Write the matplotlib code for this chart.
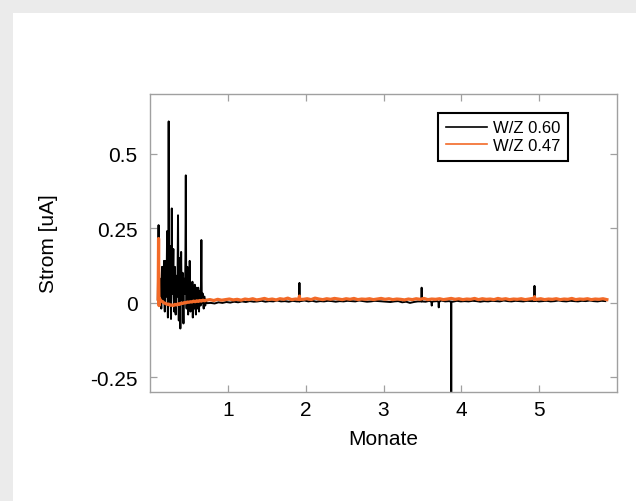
import numpy as np
import matplotlib
matplotlib.use("Agg")
import matplotlib.pyplot as plt
from matplotlib.patches import Rectangle

# ---------------- data ----------------
series_labels = ["W/Z 0.60", "W/Z 0.47"]
x_ticks = [1, 2, 3, 4, 5]
y_ticks = [-0.25, 0, 0.25, 0.5]
y_ticklabels = ["-0.25", "0", "0.25", "0.5"]

# W/Z 0.60 (black) – noisy start-up phase, months 0.10 .. 0.72 (step 0.005)
black_early_v = [0.010, 0.150, 0.260, 0.060, 0.020, 0.050, 0.000, 0.080, 0.030, -0.020,
                 0.090, 0.120, 0.040, 0.010, 0.100, 0.060, 0.140, 0.020, -0.030, 0.080,
                 0.140, 0.050, 0.020, 0.110, 0.240, 0.030, -0.050, 0.120, 0.608, 0.100,
                 0.000, 0.070, 0.190, 0.040, -0.055, 0.090, 0.316, 0.060, 0.030, 0.110,
                 0.180, 0.020, -0.030, 0.090, 0.120, 0.040, -0.040, 0.080, 0.090, 0.030,
                 0.020, 0.120, 0.293, 0.050, -0.060, 0.070, 0.150, 0.030, -0.087, 0.060,
                 0.170, 0.050, 0.010, 0.090, 0.100, 0.020, -0.070, 0.060, 0.080, 0.040,
                 0.030, 0.150, 0.427, 0.060, -0.020, 0.070, 0.120, 0.020, -0.040, 0.050,
                 0.080, 0.030, 0.140, 0.040, -0.030, 0.050, 0.060, 0.020, 0.010, 0.070,
                 -0.050, 0.030, 0.050, 0.010, -0.020, 0.060, 0.040, 0.000, -0.040, 0.050,
                 0.030, 0.010, -0.020, 0.040, 0.050, 0.000, -0.030, 0.030, 0.040, 0.010,
                 -0.010, 0.060, 0.210, 0.020, 0.000, 0.030, 0.030, 0.000, -0.020, 0.020,
                 0.020, 0.000, -0.010, 0.010, 0.005]
# W/Z 0.60 (black) – stable phase, months 0.73 .. 5.85 (step ~0.05)
black_late_v = [-0.002, -0.001, -0.003, 0.001, -0.001, 0.002, 0.000, 0.003, 0.001, 0.004,
                0.002, 0.005, 0.003, 0.004, 0.006, 0.003, 0.005, 0.004, 0.007, 0.004,
                0.005, 0.003, 0.006, 0.004, 0.005, 0.007, 0.004, 0.006, 0.003, 0.005,
                0.004, 0.006, 0.005, 0.003, 0.005, 0.004, 0.006, 0.005, 0.004, 0.007,
                0.005, 0.003, 0.004, 0.006, 0.005, 0.004, 0.003, 0.002, 0.004, 0.005,
                0.001, 0.003, -0.001, 0.002, 0.004, 0.005, 0.003, 0.006, 0.004, 0.005,
                0.007, 0.004, 0.005, 0.003, 0.006, 0.004, 0.005, 0.004, 0.006, 0.005,
                0.003, 0.005, 0.004, 0.006, 0.005, 0.004, 0.007, 0.005, 0.004, 0.006,
                0.005, 0.004, 0.006, 0.005, 0.007, 0.004, 0.005, 0.006, 0.004, 0.005,
                0.007, 0.005, 0.004, 0.006, 0.005, 0.004, 0.006, 0.005, 0.007, 0.005,
                0.004, 0.006, 0.005]
# isolated black spikes (month, value)
black_spike_t = [1.918, 1.920, 1.922, 3.488, 3.490, 3.492, 3.618, 3.620, 3.622,
                 3.708, 3.710, 3.712, 3.868, 3.870, 3.872, 4.938, 4.940, 4.942]
black_spike_v = [0.004, 0.066, 0.004, 0.004, 0.050, 0.004, 0.002, -0.010, 0.002,
                 0.002, -0.016, 0.002, 0.003, -0.320, 0.003, 0.005, 0.056, 0.005]

# W/Z 0.47 (orange) – start-up, explicit months
orange_early_t = [0.105, 0.110, 0.113, 0.116, 0.120, 0.130, 0.140, 0.160, 0.180, 0.200,
                  0.220, 0.240, 0.260, 0.280, 0.300, 0.320, 0.340, 0.360, 0.380, 0.400,
                  0.420, 0.440, 0.460, 0.480, 0.500, 0.520, 0.540, 0.560, 0.580, 0.600,
                  0.620, 0.640, 0.660, 0.680, 0.700]
orange_early_v = [0.012, 0.215, 0.060, -0.010, 0.015, 0.010, 0.006, 0.003, -0.001, -0.003,
                  -0.006, -0.005, -0.009, -0.008, -0.010, -0.006, -0.008, -0.004, -0.006, -0.002,
                  -0.003, 0.000, -0.001, 0.002, 0.001, 0.003, 0.002, 0.005, 0.003, 0.006,
                  0.004, 0.007, 0.005, 0.008, 0.006]
# W/Z 0.47 (orange) – stable phase, months 0.72 .. 5.87 (step ~0.05)
orange_late_v = [0.008, 0.010, 0.007, 0.011, 0.008, 0.010, 0.012, 0.009, 0.011, 0.008,
                 0.012, 0.010, 0.013, 0.009, 0.011, 0.014, 0.010, 0.012, 0.009, 0.013,
                 0.011, 0.015, 0.010, 0.012, 0.014, 0.011, 0.013, 0.010, 0.015, 0.012,
                 0.010, 0.013, 0.011, 0.014, 0.012, 0.010, 0.013, 0.011, 0.014, 0.010,
                 0.012, 0.011, 0.013, 0.010, 0.012, 0.014, 0.011, 0.013, 0.010, 0.012,
                 0.011, 0.009, 0.012, 0.010, 0.013, 0.011, 0.014, 0.010, 0.012, 0.011,
                 0.013, 0.010, 0.012, 0.014, 0.011, 0.013, 0.010, 0.012, 0.011, 0.014,
                 0.010, 0.013, 0.011, 0.012, 0.010, 0.014, 0.011, 0.013, 0.010, 0.012,
                 0.011, 0.013, 0.010, 0.012, 0.014, 0.011, 0.013, 0.010, 0.012, 0.011,
                 0.013, 0.010, 0.012, 0.011, 0.014, 0.010, 0.012, 0.011, 0.013, 0.010,
                 0.012, 0.011, 0.013, 0.010]
orange_spike_t = [1.918, 1.920, 1.922, 4.938, 4.940, 4.942]
orange_spike_v = [0.011, 0.022, 0.011, 0.011, 0.020, 0.011]

# ---------------- assemble time axes (regular sampling) ----------------
black_early_t = np.linspace(0.10, 0.72, len(black_early_v))
black_late_t = np.linspace(0.73, 5.85, len(black_late_v))
orange_late_t = np.linspace(0.72, 5.87, len(orange_late_v))

bt = np.concatenate([black_early_t, black_late_t, black_spike_t])
bv = np.concatenate([black_early_v, black_late_v, black_spike_v])
o = np.argsort(bt, kind="stable")
bt, bv = bt[o], bv[o]

ot = np.concatenate([orange_early_t, orange_late_t, orange_spike_t])
ov = np.concatenate([orange_early_v, orange_late_v, orange_spike_v])
o = np.argsort(ot, kind="stable")
ot, ov = ot[o], ov[o]

# ---------------- figure ----------------
plt.rcParams["font.family"] = ["Liberation Sans", "DejaVu Sans"]
W, H = 636, 502
fig = plt.figure(figsize=(W / 100, H / 100), dpi=100, facecolor="#ebebeb")
fig.patches.append(Rectangle((13 / W, 0), 1 - 13 / W, 1 - 14 / H,
                             transform=fig.transFigure, facecolor="white",
                             edgecolor="none", zorder=-10))

ax_l, ax_r, ax_t, ax_b = 150, 617, 95, 393
ax = fig.add_axes([ax_l / W, 1 - ax_b / H, (ax_r - ax_l) / W, (ax_b - ax_t) / H])
ax.set_facecolor("white")

black_c = "#000000"
orange_c = "#f26a28"
ax.plot(bt, bv, color=black_c, lw=1.4, label=series_labels[0], zorder=2)
ax.plot(ot, ov, color=orange_c, lw=2.3, label=series_labels[1], zorder=3)

ax.set_xlim(0, 6)
ax.set_ylim(-0.3, 0.7)
ax.set_xticks(x_ticks)
ax.set_xticklabels([str(v) for v in x_ticks])
ax.set_yticks(y_ticks)
ax.set_yticklabels(y_ticklabels)

spine_c = "#a0a0a0"
for s in ax.spines.values():
    s.set_color(spine_c)
    s.set_linewidth(1.0)
ax.tick_params(axis="both", which="both", direction="in", length=5, width=0.9,
               color=spine_c, labelcolor="black", labelsize=15,
               top=True, right=True)
ax.tick_params(axis="x", pad=6)
ax.tick_params(axis="y", pad=9)

ax.set_xlabel("Monate", fontsize=15, labelpad=7)
ax.set_ylabel("Strom [uA]", fontsize=15)
ax.yaxis.set_label_coords((58 - ax_l) / (ax_r - ax_l), 0.5)

leg = ax.legend(loc="upper right",
                bbox_to_anchor=((568 - ax_l) / (ax_r - ax_l), (ax_b - 114) / (ax_b - ax_t)),
                borderaxespad=0, fontsize=12, frameon=True, fancybox=False,
                handlelength=2.5, handletextpad=0.35, labelspacing=0.15,
                borderpad=0.45)
leg.get_frame().set_edgecolor("black")
leg.get_frame().set_linewidth(1.5)
leg.get_frame().set_alpha(1)
for h in leg.get_lines():
    h.set_linewidth(1.2)

fig.savefig("out.png", dpi=100, facecolor=fig.get_facecolor())
